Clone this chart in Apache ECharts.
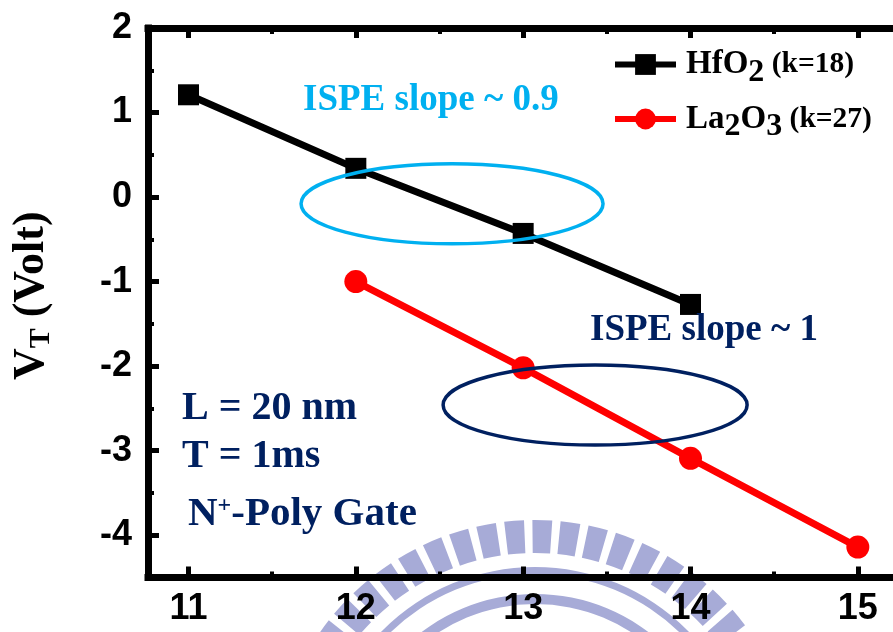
<!DOCTYPE html>
<html>
<head>
<meta charset="utf-8">
<script src="https://cdn.jsdelivr.net/npm/echarts@6/dist/echarts.min.js"></script>
<style>
html, body { margin: 0; padding: 0; background: #ffffff; }
#chart { width: 893px; height: 632px; }
</style>
</head>
<body>
<div id="chart"></div>
<script>
// Threshold voltage vs. step for two high-k gate dielectrics
const hfo2X = [11, 12, 13, 14];
const hfo2VT = [1.21, 0.34, -0.43, -1.27];
const la2o3X = [12, 13, 14, 15];
const la2o3VT = [-1.0, -2.02, -3.09, -4.14];

const xTickLabels = [11, 12, 13, 14, 15];
const xMinorTicks = [11.5, 12.5, 13.5, 14.5];
const yTickLabels = [-4, -3, -2, -1, 0, 1, 2];
const yMinorTicks = [-3.5, -2.5, -1.5, -0.5, 0.5, 1.5];

const seriesNames = ['HfO2 (k=18)', 'La2O3 (k=27)'];
const legendRich = {
  'HfO2 (k=18)': '{g|}{m|HfO}{s|2}{k| (k=18)}',
  'La2O3 (k=27)': '{g|}{m|La}{s|2}{m|O}{s|3}{k| (k=27)}'
};

const X_MIN = 10.758, X_MAX = 15.24;
const Y_MIN = -4.5, Y_MAX = 2;

const SANS = '"Liberation Sans", Arial, sans-serif';
const SERIF = '"Liberation Serif", "Times New Roman", serif';
const NAVY = '#002060';
const CYAN = '#00b0f0';

function pairs(xs, ys) { return xs.map((x, i) => [x, ys[i]]); }

function xAxisDef(position, ticks, tickLen, tickWidth, showLine, labels) {
  return {
    type: 'value', position: position, min: X_MIN, max: X_MAX,
    axisLine: { show: showLine, onZero: false, lineStyle: { color: '#000', width: 7, cap: 'square' } },
    axisTick: { show: true, inside: true, customValues: ticks, length: tickLen, lineStyle: { color: '#000', width: tickWidth } },
    axisLabel: labels ? {
      show: true, customValues: labels, margin: 14, color: '#000',
      fontFamily: SANS, fontWeight: 'bold', fontSize: 36
    } : { show: false },
    splitLine: { show: false }
  };
}

function yAxisDef(ticks, tickLen, tickWidth, showLine, labels) {
  const ax = {
    type: 'value', position: 'left', min: Y_MIN, max: Y_MAX,
    axisLine: { show: showLine, onZero: false, lineStyle: { color: '#000', width: 7, cap: 'square' } },
    axisTick: { show: true, inside: true, customValues: ticks, length: tickLen, lineStyle: { color: '#000', width: tickWidth } },
    axisLabel: labels ? {
      show: true, customValues: labels, margin: 16, color: '#000',
      fontFamily: SANS, fontWeight: 'bold', fontSize: 36
    } : { show: false },
    splitLine: { show: false }
  };
  if (labels) {
    ax.name = '{v|V}{s|T}{v| (Volt)}';
    ax.nameLocation = 'middle';
    ax.nameGap = 92;
    ax.nameRotate = 90;
    ax.nameTextStyle = {
      color: '#000', fontFamily: SERIF, fontWeight: 'bold', fontSize: 44,
      padding: [0, 0, 0, 14],
      rich: {
        v: { fontFamily: SERIF, fontWeight: 'bold', fontSize: 44, color: '#000' },
        s: { fontFamily: SERIF, fontWeight: 'bold', fontSize: 30, color: '#000', padding: [18, 0, 0, 0] }
      }
    };
  }
  return ax;
}

const chart = echarts.init(document.getElementById('chart'), null, { renderer: 'canvas' });

const option = {
  backgroundColor: '#ffffff',
  animation: false,
  grid: { left: 148, right: -5, top: 28, bottom: 54.5, containLabel: false, outerBoundsMode: 'none' },
  legend: {
    data: seriesNames,
    orient: 'vertical',
    left: 612, top: 48, padding: 0,
    itemWidth: 61, itemHeight: 26, itemGap: 14,
    lineStyle: { width: 6 },
    formatter: name => legendRich[name],
    textStyle: {
      color: '#000', fontFamily: SERIF, fontWeight: 'bold', fontSize: 30,
      rich: {
        g: { width: 5 },
        m: { fontFamily: SERIF, fontWeight: 'bold', fontSize: 33, color: '#000' },
        s: { fontFamily: SERIF, fontWeight: 'bold', fontSize: 32, color: '#000', padding: [16, 0, 0, 0] },
        k: { fontFamily: SERIF, fontWeight: 'bold', fontSize: 29.5, color: '#000' }
      }
    }
  },
  xAxis: [
    xAxisDef('bottom', xTickLabels, 11, 5, true, xTickLabels),
    xAxisDef('bottom', xMinorTicks, 6, 4, false, null),
    xAxisDef('top', xTickLabels, 10, 5, true, null),
    xAxisDef('top', xMinorTicks, 6, 4, false, null)
  ],
  yAxis: [
    yAxisDef(yTickLabels, 11, 5, true, yTickLabels),
    yAxisDef(yMinorTicks, 6, 4, false, null)
  ],
  series: [
    {
      name: seriesNames[0], type: 'line', xAxisIndex: 0, yAxisIndex: 0,
      data: pairs(hfo2X, hfo2VT),
      symbol: 'rect', symbolSize: 21,
      lineStyle: { color: '#000', width: 7 },
      itemStyle: { color: '#000' },
      z: 4
    },
    {
      name: seriesNames[1], type: 'line', xAxisIndex: 0, yAxisIndex: 0,
      data: pairs(la2o3X, la2o3VT),
      symbol: 'circle', symbolSize: 23,
      lineStyle: { color: '#ff0000', width: 7 },
      itemStyle: { color: '#ff0000' },
      z: 3
    }
  ]
};

chart.setOption(option);

// Annotation ellipses anchored in data space
function px(x, y) { return chart.convertToPixel({ xAxisIndex: 0, yAxisIndex: 0 }, [x, y]); }
const cyanCenter = px(12.575, -0.08);
const navyCenter = px(13.43, -2.46);

// Faint emblem printed behind the plot
const emblem = [];
const ECX = 535, ECY = 782;
const pitch = 0.108, barHalf = 0.038;
for (let k = -12; k <= 12; k++) {
  const a = -Math.PI / 2 - 0.08 + k * pitch;
  emblem.push({
    type: 'sector', silent: true, z: -20,
    shape: { cx: ECX, cy: ECY, r0: 229, r: 262, startAngle: a - barHalf, endAngle: a + barHalf },
    style: { fill: '#a7abd7' }
  });
}
emblem.push({
  type: 'ring', silent: true, z: -20,
  shape: { cx: ECX, cy: ECY, r0: 208, r: 215 },
  style: { fill: '#a7abd7' }
});
emblem.push({
  type: 'ring', silent: true, z: -20,
  shape: { cx: ECX, cy: ECY, r0: 178, r: 188 },
  style: { fill: '#a7abd7' }
});

function label(text, x, y, size, color, rich) {
  return {
    type: 'text', z: 50, silent: true,
    style: {
      text: text, x: x, y: y, fill: color,
      fontFamily: SERIF, fontWeight: 'bold', fontSize: size,
      align: 'left', verticalAlign: 'middle', rich: rich
    }
  };
}

const graphics = emblem.concat([
  {
    type: 'ellipse', z: 40, silent: true,
    shape: { cx: cyanCenter[0], cy: cyanCenter[1], rx: 151, ry: 40 },
    style: { fill: 'none', stroke: CYAN, lineWidth: 3.5 }
  },
  {
    type: 'ellipse', z: 40, silent: true,
    shape: { cx: navyCenter[0], cy: navyCenter[1], rx: 152, ry: 40 },
    style: { fill: 'none', stroke: NAVY, lineWidth: 3.5 }
  },
  label('ISPE slope ~ 0.9', 303, 100, 37, CYAN),
  label('ISPE slope ~ 1', 590, 330, 37, NAVY),
  label('L = 20 nm', 182, 409, 40, NAVY),
  label('T = 1ms', 182, 457, 40, NAVY),
  label('{n|N}{p|+}{n|-Poly Gate}', 188, 514, 41, NAVY, {
    n: { fontFamily: SERIF, fontWeight: 'bold', fontSize: 41, color: NAVY },
    p: { fontFamily: SERIF, fontWeight: 'bold', fontSize: 24, color: NAVY, padding: [0, 0, 16, 0] }
  })
]);

chart.setOption({ graphic: graphics });
</script>
</body>
</html>
